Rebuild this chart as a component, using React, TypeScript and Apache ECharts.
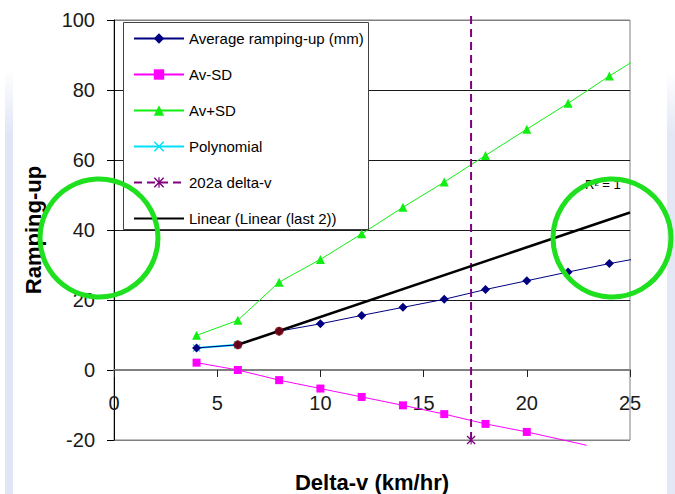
import React, { useEffect, useRef } from "react";
import * as echarts from "echarts";

// ---- data ----
const deltaV = [4, 6, 8, 10, 12, 14, 16, 18, 20, 22, 24];
const averageRamping = [6.3, 7.2, 11.1, 13.2, 15.6, 17.9, 20.2, 23.0, 25.5, 28.0, 30.4];
const averageTail = [25.3, 31.8];
const avMinusX = [4, 6, 8, 10, 12, 14, 16, 18, 20];
const avMinusSD = [2.1, 0, -2.9, -5.3, -7.7, -10.1, -12.6, -15.4, -17.7];
const avMinusTail = [22.9, -21.5];
const avPlusSD = [9.9, 14.2, 25.1, 31.6, 38.9, 46.5, 53.7, 61.3, 68.8, 76.2, 84.0];
const avPlusTail = [25.26, 88.6];
const polyX = [4, 6];
const polyY = [6.3, 7.2];
const last2X = [6, 8];
const last2Y = [7.2, 11.1];
const trendX = [6, 25];
const trendY = [7.2, 45];
const delta202aX = [17.3, 17.3];
const delta202aY = [-20, 101.5];

const xMin = 0, xMax = 25, xStep = 5;
const yMin = -20, yMax = 100, yStep = 20;

const seriesNames = [
  "Average ramping-up (mm)",
  "Av-SD",
  "Av+SD",
  "Polynomial",
  "202a delta-v",
  "Linear (Linear (last 2))",
];
const xTitle = "Delta-v (km/hr)";
const yTitle = "Ramping-up";
const rSquaredText = "R² = 1";

const FONT = "'Liberation Sans', Arial, sans-serif";
const CIRCLE_GREEN = "#1fe01f";

const xSymbol = "path://M0,1L1,0L5,4L9,0L10,1L6,5L10,9L9,10L5,6L1,10L0,9L4,5Z";
const asteriskSymbol =
  "path://M0,1L1,0L5,4L9,0L10,1L6,5L10,9L9,10L5,6L1,10L0,9L4,5Z M4.4,0L5.6,0L5.6,10L4.4,10Z";

const zip = (xs: number[], ys: number[]) => xs.map((x, i) => [x, ys[i]]);

export default function App() {
  const ref = useRef<HTMLDivElement>(null);
  useEffect(() => {
    const chart = echarts.init(ref.current!, null, { renderer: "svg" });
    const tail = (p: number[]) => ({ value: p, symbol: "none" });
    const legendData = seriesNames.map((name, i) =>
      i === 5
        ? { name, itemStyle: { color: "rgba(0,0,0,0)", borderColor: "rgba(0,0,0,0)", borderWidth: 0 } }
        : { name }
    );
    const option: any = {
      animation: false,
      backgroundColor: "#ffffff",
      grid: [
        {
          left: 114,
          right: 45,
          top: 20,
          bottom: 54,
          show: true,
          borderColor: "#808080",
          borderWidth: 1,
          backgroundColor: "transparent",
          containLabel: false,
          outerBoundsMode: "none",
        },
        {
          // upper part of the plot (y >= 0); its bottom edge is the zero line carrying the x axis
          left: 114,
          right: 45,
          top: 20,
          bottom: 124,
          show: false,
          containLabel: false,
          outerBoundsMode: "none",
        },
      ],
      legend: {
        data: legendData,
        orient: "vertical",
        left: 133,
        top: 31,
        padding: 0,
        itemWidth: 50,
        itemHeight: 13,
        itemGap: 21,
        textStyle: { fontSize: 15, color: "#000", fontFamily: FONT },
        z: 6,
      },
      xAxis: [
        {
          gridIndex: 0,
          type: "value",
          min: xMin,
          max: xMax,
          interval: xStep,
          axisLine: { show: false, onZero: false },
          axisTick: { show: false },
          axisLabel: { show: false },
          splitLine: { show: false },
        },
        {
          gridIndex: 1,
          type: "value",
          position: "bottom",
          min: xMin,
          max: xMax,
          interval: xStep,
          name: xTitle,
          nameLocation: "middle",
          nameGap: 101,
          nameTextStyle: { fontSize: 22, fontWeight: "bold", color: "#000", fontFamily: FONT },
          axisLine: { show: true, onZero: false, lineStyle: { color: "#808080", width: 2 } },
          axisTick: { show: true, length: 7, lineStyle: { color: "#222", width: 1 } },
          axisLabel: {
            margin: 23,
            fontSize: 20,
            color: "#1a1a1a",
            fontFamily: FONT,
            showMinLabel: true,
            showMaxLabel: true,
          },
          splitLine: { show: false },
          z: 3,
        },
      ],
      yAxis: [
        {
          gridIndex: 0,
          type: "value",
          min: yMin,
          max: yMax,
          interval: yStep,
          name: yTitle,
          nameLocation: "middle",
          nameGap: 70,
          nameTextStyle: { fontSize: 22, fontWeight: "bold", color: "#000", fontFamily: FONT },
          axisLine: { show: true, onZero: false, lineStyle: { color: "#000", width: 1 } },
          axisTick: { show: true, length: 7, lineStyle: { color: "#000", width: 1 } },
          axisLabel: { margin: 19, fontSize: 20, color: "#1a1a1a", fontFamily: FONT },
          splitLine: {
            show: true,
            lineStyle: {
              color: ["#808080", "#808080", "#1a1a1a", "#1a1a1a", "#1a1a1a", "#1a1a1a", "#808080"],
              width: 1,
            },
          },
        },
        {
          gridIndex: 1,
          type: "value",
          min: 0,
          max: yMax,
          interval: yStep,
          show: false,
        },
      ],
      series: [
        {
          name: seriesNames[0],
          type: "line",
          clip: false,
          data: [...zip(deltaV, averageRamping), tail(averageTail)],
          symbol: "diamond",
          symbolSize: 9,
          lineStyle: { color: "#000080", width: 1 },
          itemStyle: { color: "#000080" },
          z: 4,
        },
        {
          name: seriesNames[1],
          type: "line",
          clip: false,
          data: [...zip(avMinusX, avMinusSD), tail(avMinusTail)],
          symbol: "rect",
          symbolSize: 8,
          lineStyle: { color: "#ff00ff", width: 1 },
          itemStyle: { color: "#ff00ff" },
          z: 4,
        },
        {
          name: seriesNames[2],
          type: "line",
          clip: false,
          data: [...zip(deltaV, avPlusSD), tail(avPlusTail)],
          symbol: "triangle",
          symbolSize: 9,
          lineStyle: { color: "#11ee11", width: 1 },
          itemStyle: { color: "#11ee11" },
          z: 4,
        },
        {
          name: seriesNames[3],
          type: "line",
          clip: false,
          data: zip(polyX, polyY),
          symbol: xSymbol,
          symbolSize: 8,
          lineStyle: { color: "#00e0f8", width: 2 },
          itemStyle: { color: "#00e0f8" },
          z: 3,
        },
        {
          name: seriesNames[4],
          type: "line",
          clip: false,
          data: [zip(delta202aX, delta202aY)[0], tail(zip(delta202aX, delta202aY)[1])],
          symbol: asteriskSymbol,
          symbolSize: 9,
          lineStyle: { color: "#800080", width: 2, type: [8, 5] },
          itemStyle: { color: "#800080" },
          z: 4,
        },
        {
          name: seriesNames[5],
          type: "line",
          clip: false,
          data: zip(trendX, trendY),
          symbol: "none",
          lineStyle: { color: "#000000", width: 2.5 },
          itemStyle: { color: "#000000" },
          z: 4,
        },
        {
          name: "Linear (last 2)",
          type: "scatter",
          data: zip(last2X, last2Y),
          symbol: "circle",
          symbolSize: 9,
          itemStyle: { color: "#800000" },
          z: 5,
        },
      ],
      graphic: [
        {
          type: "rect",
          shape: { x: 5, y: 70, width: 8, height: 424 },
          style: {
            fill: new echarts.graphic.LinearGradient(0, 0, 0, 1, [
              { offset: 0, color: "rgba(225,230,246,0)" },
              { offset: 0.15, color: "rgba(225,230,246,1)" },
              { offset: 1, color: "rgba(225,230,246,1)" },
            ]),
          },
          z: -1,
          silent: true,
        },
        {
          type: "rect",
          shape: { x: 667, y: 70, width: 8, height: 424 },
          style: {
            fill: new echarts.graphic.LinearGradient(0, 0, 0, 1, [
              { offset: 0, color: "rgba(228,232,246,0)" },
              { offset: 0.15, color: "rgba(228,232,246,1)" },
              { offset: 1, color: "rgba(228,232,246,1)" },
            ]),
          },
          z: -1,
          silent: true,
        },
        {
          type: "rect",
          shape: { x: 123.5, y: 22.5, width: 245, height: 207 },
          style: { fill: "#ffffff", stroke: "#404040", lineWidth: 1 },
          z: 5,
          silent: true,
        },
        {
          type: "text",
          x: 585,
          y: 184,
          style: {
            text: rSquaredText,
            fill: "#000",
            font: `13px ${FONT}`,
            verticalAlign: "middle",
            align: "left",
          },
          z: 6,
          silent: true,
        },
        {
          type: "circle",
          shape: { cx: 99, cy: 238, r: 59 },
          style: { fill: "none", stroke: CIRCLE_GREEN, lineWidth: 5 },
          z: 20,
          silent: true,
        },
        {
          type: "circle",
          shape: { cx: 612, cy: 238, r: 59 },
          style: { fill: "none", stroke: CIRCLE_GREEN, lineWidth: 5 },
          z: 20,
          silent: true,
        },
      ],
    };
    chart.setOption(option);
    return () => chart.dispose();
  }, []);
  return (
    <div
      ref={ref}
      style={{ position: "fixed", left: 0, top: 0, width: 675, height: 494, background: "#fff" }}
    />
  );
}
